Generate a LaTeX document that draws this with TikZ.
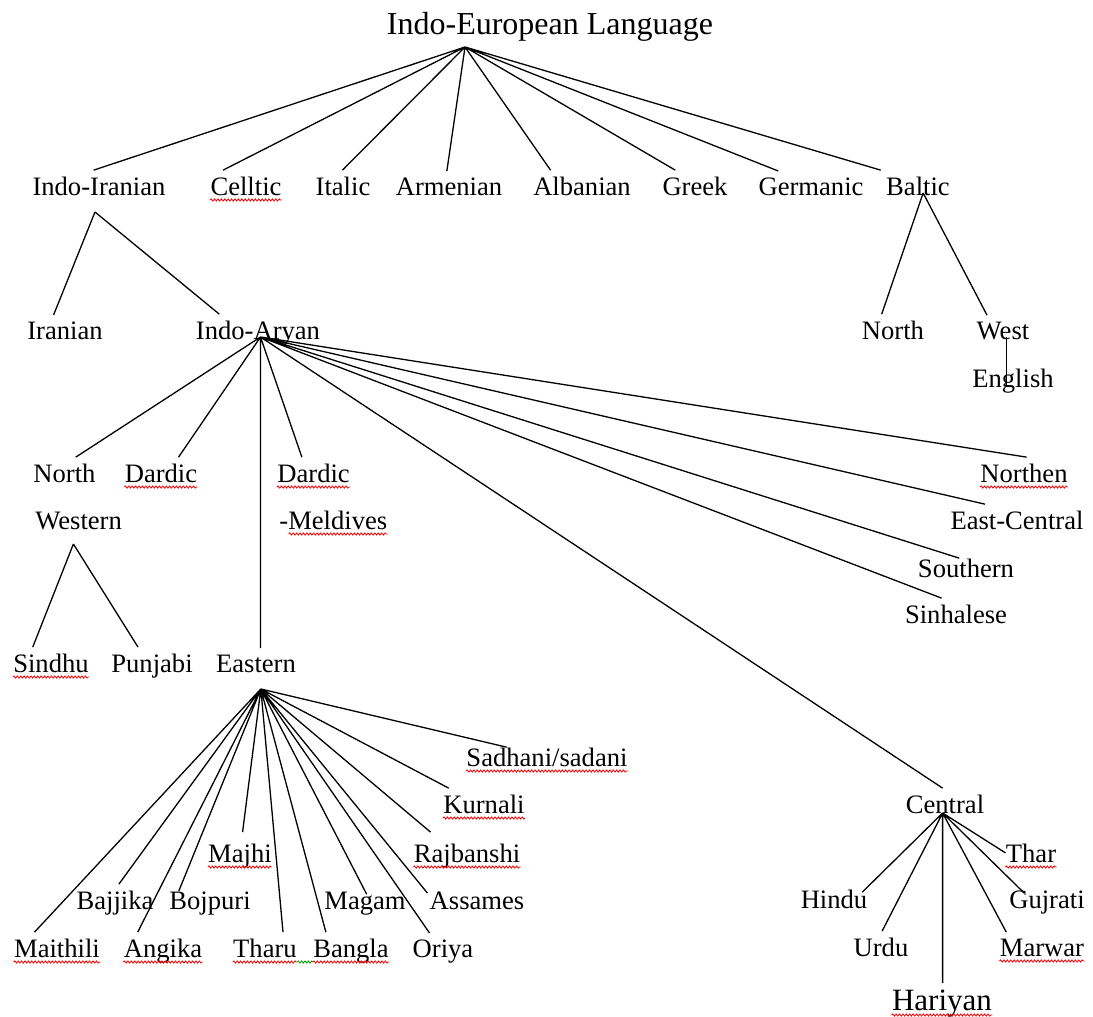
\documentclass[tikz,border=0pt]{standalone}
\usepackage{fontspec}
\setmainfont{Liberation Serif}
\usetikzlibrary{positioning,calc,decorations.pathmorphing}

\begin{document}
\begin{tikzpicture}[
    x=0.5pt, y=-0.5pt,
    every node/.style={inner xsep=0, inner ysep=3pt, font=\fontsize{13.3}{15}\selectfont},
    lang/.style={anchor=base},
    link/.style={line width=0.65pt},
    typo/.style={red, line width=0.4pt, decorate,
        decoration={snake, amplitude=0.55pt, segment length=1.7pt}}
]
\useasboundingbox (0,0) rectangle (1093,1017);

% root and first level
\node[lang, font=\fontsize{16}{19}\selectfont] (ie) at (550,34) {Indo-European Language};
\node[lang] (indoiranian) at (99,195) {Indo-Iranian};
\node[lang] (celltic) at (246,195) {Celltic};
\node[lang] (italic) at (343,195) {Italic};
\node[lang] (armenian) at (449,195) {Armenian};
\node[lang] (albanian) at (582,195) {Albanian};
\node[lang] (greek) at (695,195) {Greek};
\node[lang] (germanic) at (811,195) {Germanic};
\node[lang] (baltic) at (918,195) {Baltic};

% second level
\node[lang] (iranian) at (65,339) {Iranian};
\node[lang] (indoaryan) at (258,339) {Indo-Aryan};
\node[lang] (baltnorth) at (893,339) {North};
\node[lang] (west) at (1003,339) {West};
\node[lang] (english) at (1013,387) {English};

% Indo-Aryan branches
\node[anchor=base west] (nwnorth) at (33,482) {North};
\node[anchor=base west] (nwwestern) at (35,529) {Western};
\node[lang] (dardic) at (161,482) {Dardic};
\node[anchor=base west] (dardicm) at (277,482) {Dardic};
\node[anchor=base west] (meldives) at (279,529) {-Meldives};
\node[lang] (northen) at (1024,482) {Northen};
\node[lang] (eastcentral) at (1017,529) {East-Central};
\node[lang] (southern) at (966,577) {Southern};
\node[lang] (sinhalese) at (956,623) {Sinhalese};
\node[lang] (sindhu) at (51,672) {Sindhu};
\node[lang] (punjabi) at (152,672) {Punjabi};
\node[lang] (eastern) at (256,672) {Eastern};

% Eastern group
\node[lang] (sadhani) at (547,766) {Sadhani/sadani};
\node[lang] (kurnali) at (484,813) {Kurnali};
\node[lang] (rajbanshi) at (467,862) {Rajbanshi};
\node[lang] (majhi) at (240,862) {Majhi};
\node[lang] (bajjika) at (115,909) {Bajjika};
\node[lang] (bojpuri) at (210,909) {Bojpuri};
\node[lang] (magam) at (365,909) {Magam};
\node[lang] (assames) at (477,909) {Assames};
\node[lang] (maithili) at (57,957) {Maithili};
\node[lang] (angika) at (163,957) {Angika};
\node[lang] (tharu) at (265,957) {Tharu};
\node[lang] (bangla) at (351,957) {Bangla};
\node[lang] (oriya) at (443,957) {Oriya};

% Central group
\node[lang] (central) at (945,813) {Central};
\node[lang] (thar) at (1031,862) {Thar};
\node[lang] (hindu) at (834,908) {Hindu};
\node[lang] (gujrati) at (1047,908) {Gujrati};
\node[lang] (urdu) at (881,956) {Urdu};
\node[lang] (marwar) at (1042,956) {Marwar};
\node[lang, font=\fontsize{15.5}{18}\selectfont] (hariyan) at (942,1010) {Hariyan};

% hubs where the branches meet
\coordinate (iehub) at ($(ie.base west)!0.24!(ie.base east)+(0,13)$);
\coordinate (iihub) at ($(indoiranian.base west)!0.47!(indoiranian.base east)+(0,17)$);
\coordinate (iahub) at ($(indoaryan.base west)!0.52!(indoaryan.base east)+(0,-2)$);
\coordinate (bahub) at ($(baltic.base west)!0.58!(baltic.base east)+(0,-2)$);
\coordinate (wthub) at ($(west.base west)!0.57!(west.base east)+(0,-2)$);
\coordinate (wehub) at ($(nwwestern.base west)!0.44!(nwwestern.base east)+(0,15)$);
\coordinate (eahub) at ($(eastern.base west)!0.56!(eastern.base east)+(0,17)$);
\coordinate (cehub) at ($(central.base west)!0.47!(central.base east)$);

\begin{scope}[link]
\draw (iehub) -- ($(indoiranian.north west)!0.46!(indoiranian.north east)$)
      (iehub) -- ($(celltic.north west)!0.18!(celltic.north east)$)
      (iehub) -- ($(italic.north west)!0.49!(italic.north east)$)
      (iehub) -- ($(armenian.north west)!0.48!(armenian.north east)$)
      (iehub) -- ($(albanian.north west)!0.18!(albanian.north east)$)
      (iehub) -- ($(greek.north west)!0.2!(greek.north east)$)
      (iehub) -- ($(germanic.north west)!0.19!(germanic.north east)$)
      (iehub) -- ($(baltic.north west)!-0.08!(baltic.north east)$) ;
\draw (iihub) -- ($(iranian.north west)!0.35!(iranian.north east)$)
      (iihub) -- ($(indoaryan.north west)!0.19!(indoaryan.north east)$) ;
\draw (bahub) -- ($(baltnorth.north west)!0.32!(baltnorth.north east)$)
      (bahub) -- ($(west.north west)!0.2!(west.north east)$) ;
\draw (wthub) -- (wthub |- english.base) ;
\draw (iahub) -- ($(nwnorth.north west)!0.68!(nwnorth.north east)$)
      (iahub) -- ($(dardic.north west)!0.74!(dardic.north east)$)
      (iahub) -- ($(dardicm.north west)!0.34!(dardicm.north east)$)
      (iahub) -- (iahub |- eastern.north)
      (iahub) -- ($(central.north west)!0.47!(central.north east)$)
      (iahub) -- ($(sinhalese.north west)!0.36!(sinhalese.north east)$)
      (iahub) -- ($(southern.north west)!0.43!(southern.north east)+(0,6)$)
      (iahub) -- ($(eastcentral.north west)!0.26!(eastcentral.north east)$)
      (iahub) -- ($(northen.north west)!0.53!(northen.north east)$) ;
\draw (wehub) -- ($(sindhu.north west)!0.26!(sindhu.north east)$)
      (wehub) -- ($(punjabi.north west)!0.33!(punjabi.north east)$) ;
\draw (eahub) -- ($(sadhani.north west)!0.25!(sadhani.north east)+(0,6)$)
      (eahub) -- ($(kurnali.north west)!0.07!(kurnali.north east)$)
      (eahub) -- ($(rajbanshi.north west)!0.16!(rajbanshi.north east)+(0,-5)$)
      (eahub) -- ($(assames.north west)!-0.02!(assames.north east)+(0,8)$)
      (eahub) -- ($(oriya.north west)!0.28!(oriya.north east)$)
      (eahub) -- ($(magam.north west)!0.52!(magam.north east)+(0,9)$)
      (eahub) -- ($(bangla.north west)!0.17!(bangla.north east)$)
      (eahub) -- ($(tharu.north west)!0.78!(tharu.north east)$)
      (eahub) -- ($(majhi.north west)!0.54!(majhi.north east)+(0,-5)$)
      (eahub) -- ($(bojpuri.north west)!0.12!(bojpuri.north east)+(0,6)$)
      (eahub) -- ($(angika.north west)!0.18!(angika.north east)$)
      (eahub) -- ($(bajjika.north west)!0.55!(bajjika.north east)$)
      (eahub) -- ($(maithili.north west)!0.24!(maithili.north east)$) ;
\draw (cehub) -- (thar.west)
      (cehub) -- ($(gujrati.north west)!0.2!(gujrati.north east)+(0,9)$)
      (cehub) -- ($(marwar.north west)!0.08!(marwar.north east)$)
      (cehub) -- (cehub |- hariyan.north)
      (cehub) -- ($(urdu.north west)!0.52!(urdu.north east)$)
      (cehub) -- ($(hindu.north west)!0.92!(hindu.north east)+(0,9)$) ;
\end{scope}

% spelling marks under the words
\foreach \n in {celltic,dardic,dardicm,northen,sindhu,sadhani,kurnali,rajbanshi,
    majhi,maithili,angika,tharu,bangla,thar,marwar,hariyan}
  \draw[typo] ([yshift=-2.5pt]\n.base west) -- ([yshift=-2.5pt]\n.base east);
\draw[typo] ([yshift=-2.5pt]$(meldives.base west)!0.09!(meldives.base east)$)
    -- ([yshift=-2.5pt]meldives.base east);
\draw[typo, green!60!black] ([yshift=-2.5pt]tharu.base east) -- ([yshift=-2.5pt]bangla.base west);
\end{tikzpicture}
\end{document}
